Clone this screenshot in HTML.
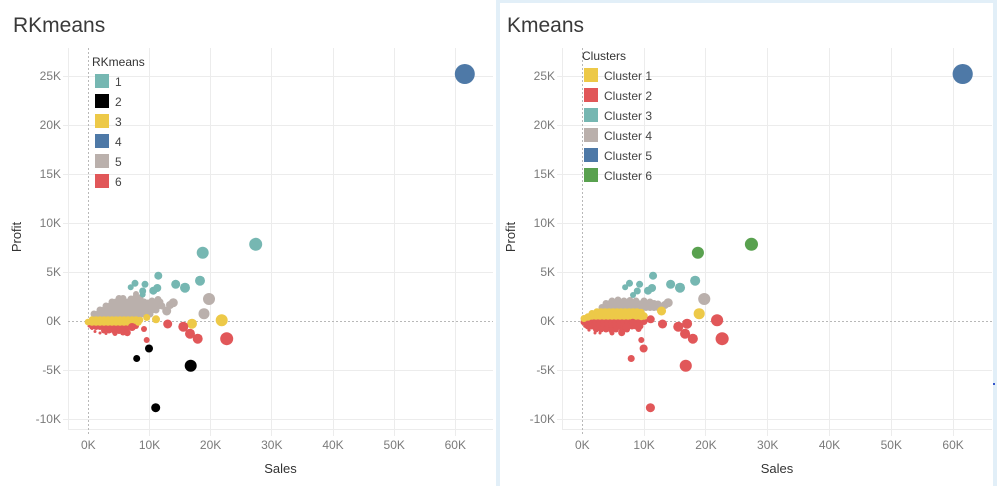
<!DOCTYPE html>
<html><head><meta charset="utf-8"><style>
html,body{margin:0;padding:0;background:#fff;}
svg{display:block;font-family:"Liberation Sans",sans-serif;}
</style></head><body>
<svg width="997" height="486" viewBox="0 0 997 486" xmlns="http://www.w3.org/2000/svg">
<rect x="0" y="0" width="997" height="486" fill="#fff"/>
<rect x="496" y="0" width="501" height="486" fill="#e2eff8"/>
<rect x="500" y="3" width="493" height="483" fill="#fff"/>
<rect x="993" y="383" width="2" height="2" fill="#3355cc"/>

<!-- LEFT CHART -->
<g stroke="#ececec" stroke-width="1" fill="none">
<line x1="63" y1="76.5" x2="493" y2="76.5"/><line x1="63" y1="125.5" x2="493" y2="125.5"/>
<line x1="63" y1="174.5" x2="493" y2="174.5"/><line x1="63" y1="223.5" x2="493" y2="223.5"/>
<line x1="63" y1="272.5" x2="493" y2="272.5"/><line x1="63" y1="370.5" x2="493" y2="370.5"/>
<line x1="63" y1="419.5" x2="493" y2="419.5"/>
<line x1="149.5" y1="48" x2="149.5" y2="436"/><line x1="210.5" y1="48" x2="210.5" y2="436"/>
<line x1="271.5" y1="48" x2="271.5" y2="436"/><line x1="333.5" y1="48" x2="333.5" y2="436"/>
<line x1="394.5" y1="48" x2="394.5" y2="436"/><line x1="455.5" y1="48" x2="455.5" y2="436"/>
<line x1="68.5" y1="48" x2="68.5" y2="429"/><line x1="68" y1="429.5" x2="493" y2="429.5"/>
</g>
<g stroke="#b8b8b8" stroke-width="1" stroke-dasharray="2,2" fill="none">
<line x1="68" y1="321.5" x2="493" y2="321.5"/><line x1="88.5" y1="48" x2="88.5" y2="436"/>
</g>
<text x="13" y="32" font-size="21" fill="#3a3a3a">RKmeans</text>
<g font-size="12" fill="#7a7a7a" text-anchor="end">
<text x="61" y="80">25K</text><text x="61" y="129">20K</text><text x="61" y="178">15K</text>
<text x="61" y="227">10K</text><text x="61" y="276">5K</text><text x="61" y="325">0K</text>
<text x="61" y="374">-5K</text><text x="61" y="423">-10K</text>
</g>
<g font-size="12" fill="#7a7a7a" text-anchor="middle">
<text x="88.3" y="449">0K</text><text x="149.5" y="449">10K</text><text x="210.6" y="449">20K</text>
<text x="271.8" y="449">30K</text><text x="333" y="449">40K</text><text x="394.2" y="449">50K</text>
<text x="455.3" y="449">60K</text>
</g>
<text x="280.5" y="473" font-size="13" fill="#333" text-anchor="middle">Sales</text>
<text transform="translate(21,237) rotate(-90)" font-size="13" fill="#333" text-anchor="middle">Profit</text>

<!-- left legend -->
<text x="92" y="66" font-size="12" fill="#333">RKmeans</text>
<rect x="95" y="74" width="14" height="14" fill="#76b7b2"/><text x="115" y="86" font-size="12" fill="#444">1</text>
<rect x="95" y="94" width="14" height="14" fill="#000"/><text x="115" y="106" font-size="12" fill="#444">2</text>
<rect x="95" y="114" width="14" height="14" fill="#edc948"/><text x="115" y="126" font-size="12" fill="#444">3</text>
<rect x="95" y="134" width="14" height="14" fill="#4e79a7"/><text x="115" y="146" font-size="12" fill="#444">4</text>
<rect x="95" y="154" width="14" height="14" fill="#bab0ac"/><text x="115" y="166" font-size="12" fill="#444">5</text>
<rect x="95" y="174" width="14" height="14" fill="#e15759"/><text x="115" y="186" font-size="12" fill="#444">6</text>

<!-- left blob -->
<g fill="#bab0ac">
<circle cx="94" cy="314" r="3.5"/><circle cx="98" cy="314" r="3.5"/><circle cx="102" cy="314" r="3.5"/><circle cx="106" cy="314" r="3.5"/><circle cx="110" cy="314" r="3.5"/><circle cx="114" cy="314" r="3.5"/><circle cx="118" cy="314" r="3.5"/><circle cx="122" cy="314" r="3.5"/><circle cx="126" cy="314" r="3.5"/><circle cx="130" cy="314" r="3.5"/><circle cx="134" cy="314" r="3.5"/><circle cx="138" cy="314" r="3.5"/><circle cx="142" cy="314" r="3.5"/><circle cx="146" cy="314" r="3.5"/><circle cx="150" cy="314" r="3.5"/>
<circle cx="100" cy="310" r="3.5"/><circle cx="104" cy="310" r="3.5"/><circle cx="108" cy="310" r="3.5"/><circle cx="112" cy="310" r="3.5"/><circle cx="116" cy="310" r="3.5"/><circle cx="120" cy="310" r="3.5"/><circle cx="124" cy="310" r="3.5"/><circle cx="128" cy="310" r="3.5"/><circle cx="132" cy="310" r="3.5"/><circle cx="136" cy="310" r="3.5"/><circle cx="140" cy="310" r="3.5"/><circle cx="144" cy="310" r="3.5"/><circle cx="148" cy="310" r="3.5"/><circle cx="152" cy="310" r="3.5"/><circle cx="156" cy="310" r="3.5"/>
<circle cx="106" cy="306" r="3.5"/><circle cx="110" cy="306" r="3.5"/><circle cx="114" cy="306" r="3.5"/><circle cx="118" cy="306" r="3.5"/><circle cx="122" cy="306" r="3.5"/><circle cx="126" cy="306" r="3.5"/><circle cx="130" cy="306" r="3.5"/><circle cx="134" cy="306" r="3.5"/><circle cx="138" cy="306" r="3.5"/><circle cx="142" cy="306" r="3.5"/><circle cx="146" cy="306" r="3.5"/><circle cx="150" cy="306" r="3.5"/><circle cx="154" cy="306" r="3.5"/><circle cx="158" cy="306" r="3.5"/><circle cx="162" cy="306" r="3.5"/>
<circle cx="112" cy="302" r="3.5"/><circle cx="116" cy="302" r="3.5"/><circle cx="120" cy="302" r="3.5"/><circle cx="124" cy="302" r="3.5"/><circle cx="128" cy="302" r="3.5"/><circle cx="132" cy="302" r="3.5"/><circle cx="136" cy="302" r="3.5"/><circle cx="140" cy="302" r="3.5"/><circle cx="144" cy="302" r="3.5"/><circle cx="148" cy="303" r="3.5"/><circle cx="156" cy="302" r="3.5"/><circle cx="160" cy="302" r="3.5"/>
<circle cx="119" cy="298.5" r="3.5"/><circle cx="123" cy="298.5" r="3.5"/><circle cx="131" cy="299" r="3.5"/><circle cx="136" cy="297" r="3.5"/><circle cx="140" cy="298" r="3.5"/><circle cx="152" cy="301" r="3.5"/><circle cx="158" cy="299.5" r="3.5"/><circle cx="136" cy="294" r="3"/>
</g>
<g fill="#e15759">
<circle cx="92" cy="326.5" r="3"/><circle cx="96" cy="327" r="3"/><circle cx="100" cy="327" r="3"/><circle cx="104" cy="327" r="3"/><circle cx="108" cy="327" r="3"/><circle cx="112" cy="327" r="3"/><circle cx="116" cy="327" r="3"/><circle cx="120" cy="327" r="3"/><circle cx="124" cy="327" r="3"/><circle cx="128" cy="327" r="3"/><circle cx="132" cy="326.5" r="3"/><circle cx="136" cy="326" r="3"/>
<circle cx="104" cy="330.5" r="3"/><circle cx="109" cy="330.5" r="3"/><circle cx="114" cy="331" r="3"/><circle cx="119" cy="331" r="3"/><circle cx="124" cy="331" r="3"/>
<circle cx="115" cy="333.5" r="2.5"/><circle cx="123" cy="332.5" r="3"/>
<circle cx="89" cy="326" r="1.5"/><circle cx="92" cy="328.5" r="1.5"/><circle cx="95" cy="331.5" r="1.5"/><circle cx="100" cy="333" r="1.5"/><circle cx="106" cy="333.5" r="1.5"/>
</g>
<g fill="#edc948">
<circle cx="92" cy="319.5" r="3.3"/><circle cx="96" cy="319.5" r="3.3"/><circle cx="100" cy="319.5" r="3.3"/><circle cx="104" cy="319.5" r="3.3"/><circle cx="108" cy="319.5" r="3.3"/><circle cx="112" cy="319.5" r="3.3"/><circle cx="116" cy="319.5" r="3.3"/><circle cx="120" cy="319.5" r="3.3"/><circle cx="124" cy="319.5" r="3.3"/><circle cx="128" cy="319.5" r="3.3"/><circle cx="132" cy="319.5" r="3.3"/><circle cx="136" cy="319.5" r="3.3"/><circle cx="140" cy="320" r="3.3"/>
<circle cx="88" cy="322" r="3.3"/><circle cx="92" cy="322.5" r="3.3"/><circle cx="96" cy="322.5" r="3.3"/><circle cx="100" cy="322.5" r="3.3"/><circle cx="104" cy="322.5" r="3.3"/><circle cx="108" cy="322.5" r="3.3"/><circle cx="112" cy="322.5" r="3.3"/><circle cx="116" cy="322.5" r="3.3"/><circle cx="120" cy="322.5" r="3.3"/><circle cx="124" cy="322.5" r="3.3"/><circle cx="128" cy="322.5" r="3.3"/><circle cx="132" cy="322" r="3.3"/>
</g>
<!-- left sparse -->
<circle cx="255.7" cy="244.3" r="6.5" fill="#76b7b2"/><circle cx="202.7" cy="252.7" r="6" fill="#76b7b2"/>
<g fill="#76b7b2">
<circle cx="158.3" cy="275.7" r="4"/><circle cx="135" cy="283.3" r="3.5"/><circle cx="130.7" cy="287.3" r="3"/><circle cx="145" cy="284.3" r="3.5"/><circle cx="142.7" cy="291" r="3.5"/><circle cx="142.7" cy="294.5" r="3"/><circle cx="153.3" cy="290.7" r="4"/><circle cx="157.3" cy="288" r="4"/><circle cx="175.7" cy="284.3" r="4.5"/><circle cx="185" cy="287.7" r="5"/><circle cx="200" cy="280.7" r="5"/>
</g>
<circle cx="209" cy="299" r="6" fill="#bab0ac"/><circle cx="204" cy="313.7" r="5.5" fill="#bab0ac"/><circle cx="173.3" cy="302.7" r="4.5" fill="#bab0ac"/><circle cx="166.7" cy="311" r="4.5" fill="#bab0ac"/><circle cx="170" cy="305" r="4" fill="#bab0ac"/>
<circle cx="221.7" cy="320.3" r="6" fill="#edc948"/><circle cx="192" cy="323.7" r="5" fill="#edc948"/><circle cx="156" cy="319.3" r="4" fill="#edc948"/><circle cx="146.7" cy="317.5" r="3.5" fill="#edc948"/><circle cx="138.3" cy="322.3" r="3.5" fill="#edc948"/>
<g fill="#e15759">
<circle cx="226.7" cy="338.7" r="6.5"/><circle cx="197.7" cy="338.7" r="5"/><circle cx="190" cy="333.7" r="5"/><circle cx="183.3" cy="326.7" r="5"/><circle cx="167.7" cy="324" r="4.5"/><circle cx="144" cy="329" r="3"/><circle cx="146.7" cy="340" r="3"/><circle cx="132" cy="327" r="4"/><circle cx="127.3" cy="332.7" r="3.5"/>
</g>
<g fill="#000">
<circle cx="136.7" cy="358.5" r="3.5"/><circle cx="149" cy="348.5" r="4"/><circle cx="190.7" cy="365.7" r="6"/><circle cx="155.7" cy="407.7" r="4.5"/>
</g>
<circle cx="464.8" cy="74" r="10" fill="#4e79a7"/>

<!-- RIGHT CHART -->
<g stroke="#ececec" stroke-width="1" fill="none">
<line x1="557" y1="76.5" x2="992" y2="76.5"/><line x1="557" y1="125.5" x2="992" y2="125.5"/>
<line x1="557" y1="174.5" x2="992" y2="174.5"/><line x1="557" y1="223.5" x2="992" y2="223.5"/>
<line x1="557" y1="272.5" x2="992" y2="272.5"/><line x1="557" y1="370.5" x2="992" y2="370.5"/>
<line x1="557" y1="419.5" x2="992" y2="419.5"/>
<line x1="644.5" y1="48" x2="644.5" y2="436"/><line x1="705.5" y1="48" x2="705.5" y2="436"/>
<line x1="767.5" y1="48" x2="767.5" y2="436"/><line x1="829.5" y1="48" x2="829.5" y2="436"/>
<line x1="891.5" y1="48" x2="891.5" y2="436"/><line x1="953.5" y1="48" x2="953.5" y2="436"/>
<line x1="562.5" y1="48" x2="562.5" y2="429"/><line x1="562" y1="429.5" x2="992" y2="429.5"/>
</g>
<g stroke="#b8b8b8" stroke-width="1" stroke-dasharray="2,2" fill="none">
<line x1="562" y1="321.5" x2="992" y2="321.5"/><line x1="582.5" y1="48" x2="582.5" y2="436"/>
</g>
<text x="507" y="32" font-size="21" fill="#3a3a3a">Kmeans</text>
<g font-size="12" fill="#7a7a7a" text-anchor="end">
<text x="555" y="80">25K</text><text x="555" y="129">20K</text><text x="555" y="178">15K</text>
<text x="555" y="227">10K</text><text x="555" y="276">5K</text><text x="555" y="325">0K</text>
<text x="555" y="374">-5K</text><text x="555" y="423">-10K</text>
</g>
<g font-size="12" fill="#7a7a7a" text-anchor="middle">
<text x="582.3" y="449">0K</text><text x="644.1" y="449">10K</text><text x="705.9" y="449">20K</text>
<text x="767.7" y="449">30K</text><text x="829.5" y="449">40K</text><text x="891.3" y="449">50K</text>
<text x="953.1" y="449">60K</text>
</g>
<text x="777" y="473" font-size="13" fill="#333" text-anchor="middle">Sales</text>
<text transform="translate(515,237) rotate(-90)" font-size="13" fill="#333" text-anchor="middle">Profit</text>

<!-- right legend -->
<text x="582" y="60" font-size="12" fill="#333">Clusters</text>
<rect x="584" y="68" width="14" height="14" fill="#edc948"/><text x="604" y="80" font-size="12" fill="#444">Cluster 1</text>
<rect x="584" y="88" width="14" height="14" fill="#e15759"/><text x="604" y="100" font-size="12" fill="#444">Cluster 2</text>
<rect x="584" y="108" width="14" height="14" fill="#76b7b2"/><text x="604" y="120" font-size="12" fill="#444">Cluster 3</text>
<rect x="584" y="128" width="14" height="14" fill="#bab0ac"/><text x="604" y="140" font-size="12" fill="#444">Cluster 4</text>
<rect x="584" y="148" width="14" height="14" fill="#4e79a7"/><text x="604" y="160" font-size="12" fill="#444">Cluster 5</text>
<rect x="584" y="168" width="14" height="14" fill="#59a14f"/><text x="604" y="180" font-size="12" fill="#444">Cluster 6</text>

<!-- right blob (right pixel coords) -->
<g fill="#bab0ac">
<circle cx="602" cy="307.5" r="3.5"/><circle cx="606" cy="307.5" r="3.5"/><circle cx="610" cy="307.5" r="3.5"/><circle cx="614" cy="307.5" r="3.5"/><circle cx="618" cy="307.5" r="3.5"/><circle cx="622" cy="307.5" r="3.5"/><circle cx="626" cy="307.5" r="3.5"/><circle cx="630" cy="307.5" r="3.5"/><circle cx="634" cy="307.5" r="3.5"/><circle cx="638" cy="307.5" r="3.5"/><circle cx="642" cy="307.5" r="3.5"/><circle cx="646" cy="307.5" r="3.5"/><circle cx="650" cy="307.5" r="3.5"/><circle cx="654" cy="307.5" r="3.5"/><circle cx="658" cy="307.5" r="3.5"/><circle cx="662" cy="307" r="3.5"/>
<circle cx="606" cy="303.5" r="3.5"/><circle cx="610" cy="303.5" r="3.5"/><circle cx="614" cy="303.5" r="3.5"/><circle cx="618" cy="303.5" r="3.5"/><circle cx="622" cy="303.5" r="3.5"/><circle cx="626" cy="303.5" r="3.5"/><circle cx="630" cy="303.5" r="3.5"/><circle cx="634" cy="303.5" r="3.5"/><circle cx="638" cy="303.5" r="3.5"/><circle cx="642" cy="303.5" r="3.5"/><circle cx="646" cy="303.5" r="3.5"/><circle cx="650" cy="303.5" r="3.5"/><circle cx="654" cy="303.5" r="3.5"/><circle cx="658" cy="304" r="3.5"/>
<circle cx="612" cy="301" r="3.5"/><circle cx="618" cy="300" r="3.5"/><circle cx="624" cy="301" r="3.5"/><circle cx="630" cy="300.5" r="3.5"/><circle cx="636" cy="301" r="3.5"/><circle cx="644" cy="301" r="3.5"/><circle cx="650" cy="302" r="3.5"/>
</g>
<g fill="#e15759">
<circle cx="584" cy="322" r="3.5"/><circle cx="588" cy="322" r="3.5"/><circle cx="592" cy="322" r="3.5"/><circle cx="596" cy="322" r="3.5"/><circle cx="600" cy="322" r="3.5"/><circle cx="604" cy="322" r="3.5"/><circle cx="608" cy="322" r="3.5"/><circle cx="612" cy="322" r="3.5"/><circle cx="616" cy="322" r="3.5"/><circle cx="620" cy="322" r="3.5"/><circle cx="624" cy="322" r="3.5"/><circle cx="628" cy="322" r="3.5"/><circle cx="632" cy="322" r="3.5"/><circle cx="636" cy="322" r="3.5"/><circle cx="640" cy="322" r="3.5"/><circle cx="644" cy="321.5" r="3.5"/>
<circle cx="588" cy="326" r="3.5"/><circle cx="592" cy="326" r="3.5"/><circle cx="596" cy="326" r="3.5"/><circle cx="600" cy="326" r="3.5"/><circle cx="604" cy="326" r="3.5"/><circle cx="608" cy="326" r="3.5"/><circle cx="612" cy="326" r="3.5"/><circle cx="616" cy="326" r="3.5"/><circle cx="620" cy="326" r="3.5"/><circle cx="624" cy="326" r="3.5"/><circle cx="628" cy="326" r="3.5"/><circle cx="632" cy="326" r="3.5"/><circle cx="636" cy="326" r="3.5"/><circle cx="640" cy="326" r="3.5"/>
<circle cx="596" cy="329.5" r="3"/><circle cx="601" cy="329.5" r="3"/><circle cx="606" cy="329.5" r="3"/><circle cx="611" cy="330" r="3"/><circle cx="616" cy="329.5" r="3"/><circle cx="622" cy="330" r="3"/><circle cx="627" cy="329.5" r="3"/><circle cx="612" cy="333" r="2.5"/>
<circle cx="585" cy="326" r="1.8"/><circle cx="589" cy="330" r="1.6"/><circle cx="595" cy="333" r="1.5"/><circle cx="600" cy="333" r="1.5"/>
</g>
<g fill="#edc948">
<circle cx="584" cy="318.5" r="3.5"/><circle cx="588" cy="317" r="3.8"/><circle cx="592" cy="316" r="3.8"/><circle cx="596" cy="316" r="3.8"/><circle cx="600" cy="316" r="3.8"/><circle cx="604" cy="316" r="3.8"/><circle cx="608" cy="316" r="3.8"/><circle cx="612" cy="316" r="3.8"/><circle cx="616" cy="316" r="3.8"/><circle cx="620" cy="316" r="3.8"/><circle cx="624" cy="316" r="3.8"/><circle cx="628" cy="316" r="3.8"/><circle cx="632" cy="316" r="3.8"/><circle cx="636" cy="316" r="3.8"/><circle cx="640" cy="316" r="3.8"/><circle cx="644" cy="316" r="3.8"/>
<circle cx="592" cy="313.5" r="3.5"/><circle cx="597" cy="312" r="3.8"/><circle cx="601" cy="312" r="3.8"/><circle cx="605" cy="312" r="3.8"/><circle cx="609" cy="312" r="3.8"/><circle cx="613" cy="312" r="3.8"/><circle cx="617" cy="312" r="3.8"/><circle cx="621" cy="312" r="3.8"/><circle cx="625" cy="312" r="3.8"/><circle cx="629" cy="312" r="3.8"/><circle cx="633" cy="312" r="3.8"/><circle cx="637" cy="312" r="3.8"/><circle cx="641" cy="312.5" r="3.8"/>
</g>
<!-- right sparse (left-frame coords transformed) -->
<g transform="translate(493.1,0) scale(1.0103,1)">
<circle cx="255.7" cy="244.3" r="6.5" fill="#59a14f"/><circle cx="202.7" cy="252.7" r="6" fill="#59a14f"/>
<g fill="#76b7b2">
<circle cx="158.3" cy="275.7" r="4"/><circle cx="135" cy="283.3" r="3.5"/><circle cx="130.7" cy="287.3" r="3"/><circle cx="145" cy="284.3" r="3.5"/><circle cx="142.7" cy="291" r="3.5"/><circle cx="138.5" cy="295" r="3"/><circle cx="153.3" cy="290.7" r="4"/><circle cx="157.3" cy="288" r="4"/><circle cx="175.7" cy="284.3" r="4.5"/><circle cx="185" cy="287.7" r="5"/><circle cx="200" cy="280.7" r="5"/>
</g>
<circle cx="209" cy="299" r="6" fill="#bab0ac"/><circle cx="173.3" cy="302.7" r="4.5" fill="#bab0ac"/><circle cx="170" cy="305" r="4" fill="#bab0ac"/>
<circle cx="204" cy="313.7" r="5.5" fill="#edc948"/><circle cx="166.7" cy="311" r="4.5" fill="#edc948"/><circle cx="146.7" cy="316.7" r="3.5" fill="#edc948"/>
<g fill="#e15759">
<circle cx="221.7" cy="320.3" r="6"/><circle cx="192" cy="323.7" r="5"/><circle cx="156" cy="319.3" r="4"/><circle cx="138.3" cy="322.3" r="3.5"/>
<circle cx="226.7" cy="338.7" r="6.5"/><circle cx="197.7" cy="338.7" r="5"/><circle cx="190" cy="333.7" r="5"/><circle cx="183.3" cy="326.7" r="5"/><circle cx="167.7" cy="324" r="4.5"/><circle cx="144" cy="329" r="3"/><circle cx="146.7" cy="340" r="3"/><circle cx="132" cy="327" r="4"/><circle cx="127.3" cy="332.7" r="3.5"/>
<circle cx="136.7" cy="358.5" r="3.5"/><circle cx="149" cy="348.5" r="4"/><circle cx="190.7" cy="365.7" r="6"/><circle cx="155.7" cy="407.7" r="4.5"/>
</g>
<circle cx="464.8" cy="74" r="10" fill="#4e79a7"/>
</g>
</svg>
</body></html>
